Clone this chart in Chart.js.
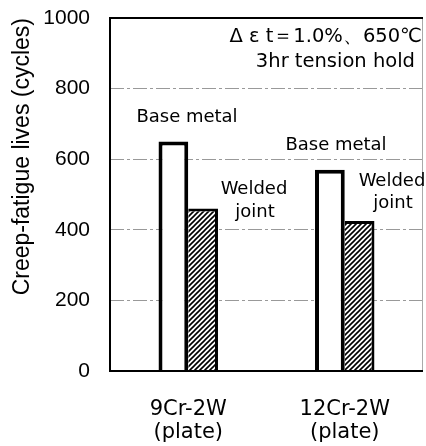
<!DOCTYPE html>
<html>
<head>
<meta charset="utf-8">
<script src="https://cdn.jsdelivr.net/npm/chart.js@4.4.1/dist/chart.umd.min.js"></script>
<style>
body { margin: 0; background: #fff; }
</style>
</head>
<body>
<canvas id="charts" width="426" height="446"></canvas>
<script>
var label = [['9Cr-2W', '(plate)'], ['12Cr-2W', '(plate)']];
var baseMetal = [650, 570];
var weldedJoint = [460, 425];
var yTicks = [0, 200, 400, 600, 800, 1000];

// diagonal hatch for the welded joint bars
function hatch() {
    var c = document.createElement('canvas');
    c.width = 5; c.height = 5;
    var g = c.getContext('2d');
    g.fillStyle = '#fff';
    g.fillRect(0, 0, 5, 5);
    g.strokeStyle = '#000';
    g.lineWidth = 1.6;
    g.beginPath();
    g.moveTo(-1, 6); g.lineTo(6, -1);
    g.moveTo(-1, 1); g.lineTo(1, -1);
    g.moveTo(4, 6); g.lineTo(6, 4);
    g.stroke();
    return g.createPattern(c, 'repeat');
}

var frame = {
    id: 'frame',
    afterDatasetsDraw: function(chart) {
        var a = chart.chartArea, ctx = chart.ctx;
        ctx.save();
        ctx.strokeStyle = '#aaa';
        ctx.lineWidth = 1;
        ctx.beginPath();
        ctx.moveTo(a.right - 0.5, a.top);
        ctx.lineTo(a.right - 0.5, a.bottom);
        ctx.stroke();
        ctx.strokeStyle = '#000';
        ctx.lineWidth = 2;
        ctx.beginPath();
        ctx.moveTo(a.right, a.top);
        ctx.lineTo(a.left, a.top);
        ctx.lineTo(a.left, a.bottom);
        ctx.lineTo(a.right, a.bottom);
        ctx.stroke();

        // notes
        ctx.fillStyle = '#000';
        ctx.textBaseline = 'middle';
        ctx.font = '18px "DejaVu Sans"';
        ctx.textAlign = 'center';
        ctx.fillText('Base metal', 187, 117);
        ctx.fillText('Welded', 254, 189);
        ctx.fillText('joint', 255, 212);
        ctx.fillText('Base metal', 336, 145);
        ctx.fillText('Welded', 392, 181);
        ctx.fillText('joint', 393, 203);
        ctx.textAlign = 'right';
        ctx.font = '19.5px "DejaVu Sans"';
        ctx.fillText('Δ ε t＝1.0%、650℃', 422, 37);
        ctx.fillText('3hr tension hold', 415, 62);
        ctx.restore();
    }
};

var ctx = document.getElementById('charts');
new Chart(ctx, {
    type: 'bar',
    data: {
        labels: label,
        datasets: [{
            label: 'Base metal',
            backgroundColor: '#fff',
            borderColor: '#000',
            borderWidth: {top: 4, left: 4, right: 4, bottom: 0},
            data: baseMetal
        }, {
            label: 'Welded joint',
            backgroundColor: hatch(),
            borderColor: '#000',
            borderWidth: {top: 3, left: 0, right: 3, bottom: 0},
            data: weldedJoint
        }]
    },
    options: {
        responsive: false,
        animation: false,
        devicePixelRatio: 1,
        layout: { padding: {top: 18, right: 3, left: 0, bottom: 0} },
        datasets: { bar: { categoryPercentage: 0.38, barPercentage: 1.0 } },
        plugins: { legend: { display: false }, tooltip: { enabled: false } },
        scales: {
            x: {
                grid: { display: false },
                border: { display: false },
                ticks: {
                    color: '#000',
                    padding: 19,
                    maxRotation: 0,
                    font: { family: '"DejaVu Sans"', size: 21, lineHeight: 1.1 }
                },
                afterFit: function(s) {
                    s.height = 75;
                    s.paddingLeft = 0; s.paddingRight = 0;
                }
            },
            y: {
                min: 0,
                max: 1000,
                afterBuildTicks: function(s) {
                    s.ticks = yTicks.map(function(v) { return {value: v}; });
                },
                grid: { color: '#999', lineWidth: 1, drawTicks: false },
                border: { display: false, dash: [14, 3, 3, 3] },
                ticks: {
                    color: '#000',
                    padding: 20,
                    font: { family: '"Liberation Sans", Arial', size: 21 },
                    callback: function(v) { return String(v); }
                },
                title: {
                    display: true,
                    text: 'Creep-fatigue lives (cycles)',
                    align: 'end',
                    color: '#000',
                    padding: {top: 9, bottom: 0},
                    font: { family: '"Liberation Sans", Arial', size: 23 }
                },
                afterFit: function(s) {
                    s.width = 110;
                    s.paddingTop = 0; s.paddingBottom = 0;
                }
            }
        }
    },
    plugins: [frame]
});
</script>
</body>
</html>
